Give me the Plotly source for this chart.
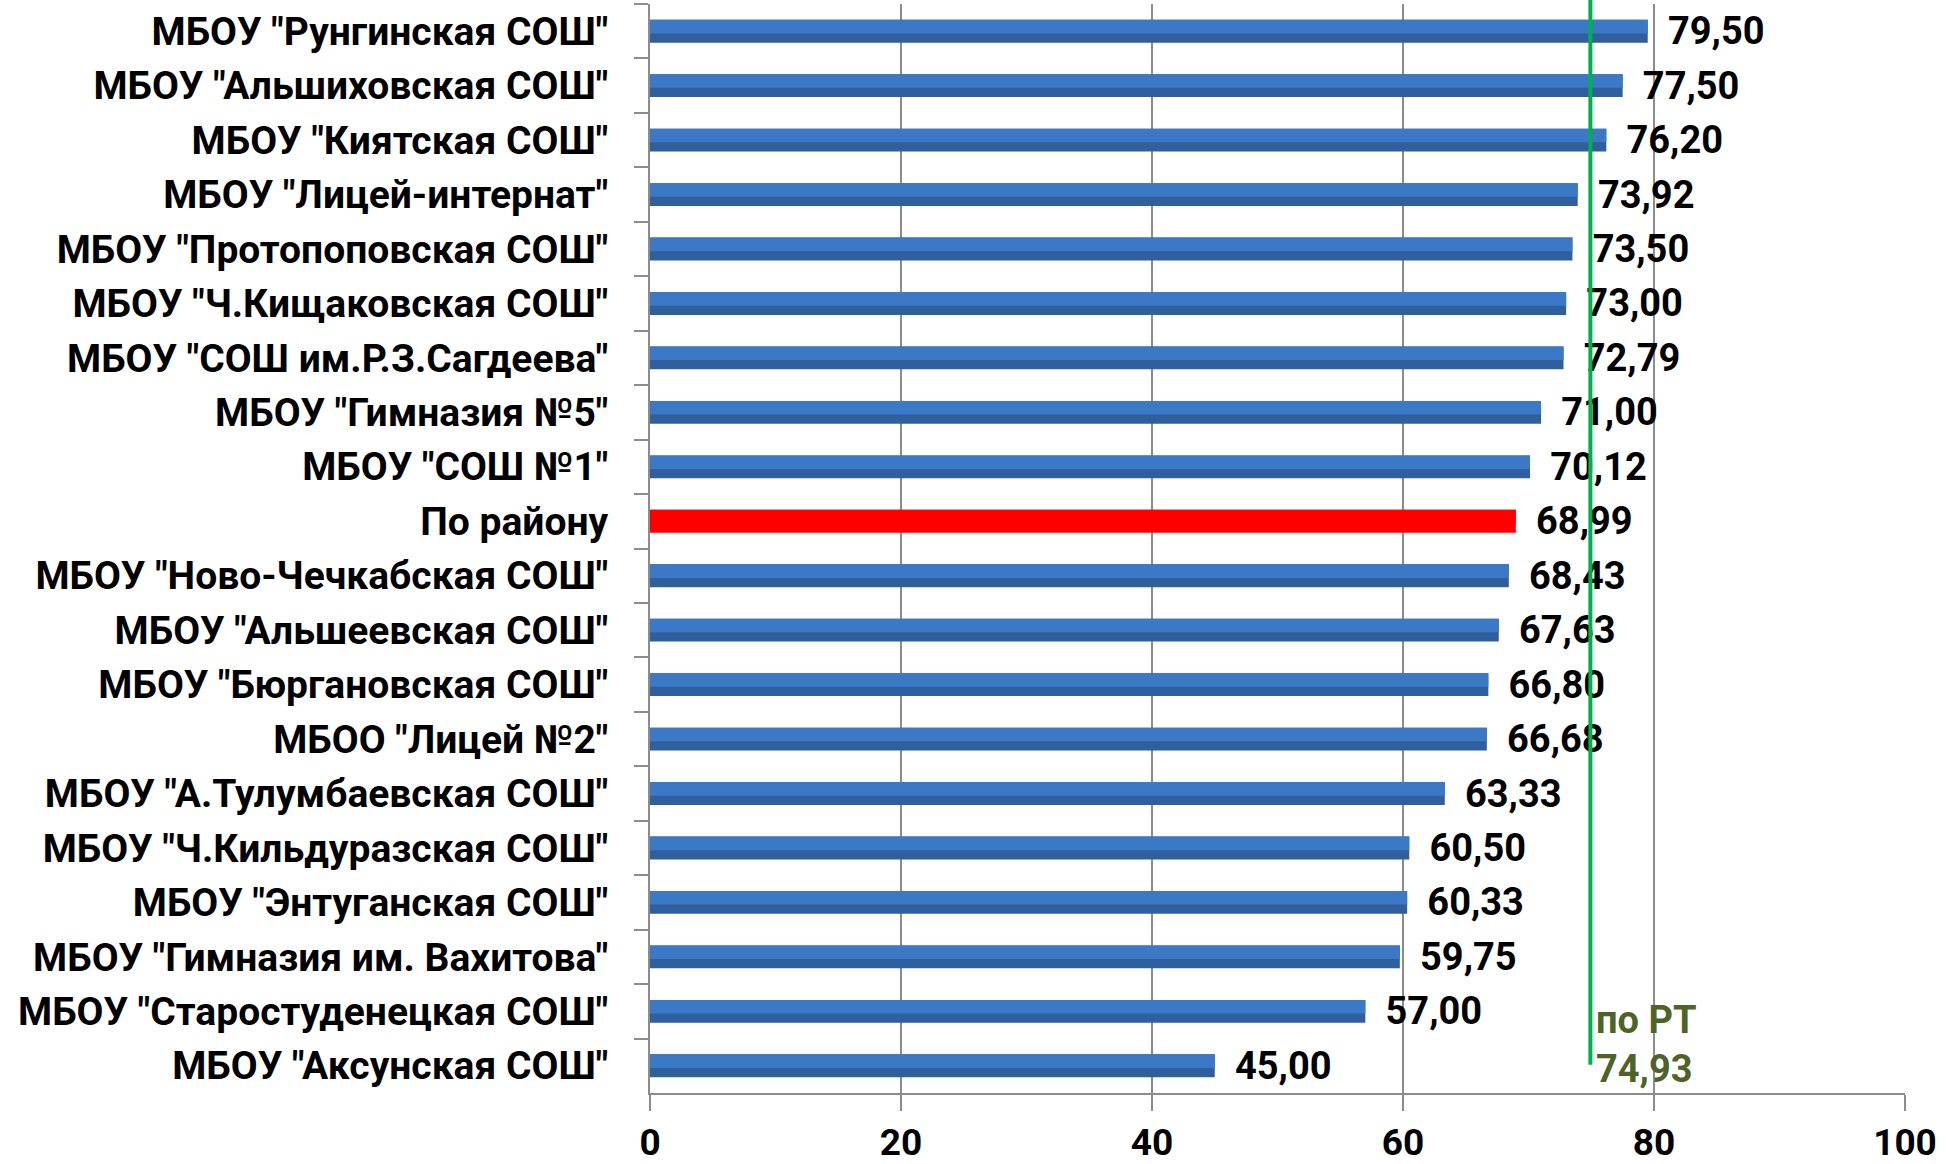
import plotly.graph_objects as go

# Schools, top to bottom as in the chart
schools = [
    'МБОУ "Рунгинская СОШ"',
    'МБОУ "Альшиховская СОШ"',
    'МБОУ "Киятская СОШ"',
    'МБОУ "Лицей-интернат"',
    'МБОУ "Протопоповская СОШ"',
    'МБОУ "Ч.Кищаковская СОШ"',
    'МБОУ "СОШ им.Р.З.Сагдеева"',
    'МБОУ "Гимназия №5"',
    'МБОУ "СОШ №1"',
    'По району',
    'МБОУ "Ново-Чечкабская СОШ"',
    'МБОУ "Альшеевская СОШ"',
    'МБОУ "Бюргановская СОШ"',
    'МБОО "Лицей №2"',
    'МБОУ "А.Тулумбаевская СОШ"',
    'МБОУ "Ч.Кильдуразская СОШ"',
    'МБОУ "Энтуганская СОШ"',
    'МБОУ "Гимназия им. Вахитова"',
    'МБОУ "Старостуденецкая СОШ"',
    'МБОУ "Аксунская СОШ"',
]
scores = [79.50, 77.50, 76.20, 73.92, 73.50, 73.00, 72.79, 71.00, 70.12, 68.99,
          68.43, 67.63, 66.80, 66.68, 63.33, 60.50, 60.33, 59.75, 57.00, 45.00]
district_name = "По району"
rt_value = 74.93
rt_label = "по РТ"
x_ticks = [0, 20, 40, 60, 80, 100]

FONT = "Roboto"
labels = ["\u00a0\u2009" + f"{v:.2f}".replace(".", ",") for v in scores]
dark = ["#FF0000" if s == district_name else "#2F5F9C" for s in schools]
light = ["#FF0000" if s == district_name else "#3B79C6" for s in schools]

fig = go.Figure()
# darker base of each bar, carrying the value labels
fig.add_trace(go.Bar(
    x=scores, y=schools, orientation="h", width=0.42,
    marker=dict(color=dark, line_width=0),
    text=labels, textposition="outside", constraintext="none", cliponaxis=False,
    textfont=dict(family=FONT, size=38, color="black", weight="bold"),
))
# lighter upper part to imitate the gradient
fig.add_trace(go.Bar(
    x=scores, y=schools, orientation="h", width=0.25, offset=-0.21,
    marker=dict(color=light, line_width=0),
))

fig.add_shape(type="line", xref="x", yref="paper", x0=rt_value, x1=rt_value,
              y0=0.026, y1=1.004, line=dict(color="#00B050", width=4))
fig.add_annotation(
    x=rt_value, xref="x", y=0.0, yref="paper", xanchor="left", yanchor="bottom",
    xshift=4, yshift=0, showarrow=False, align="left",
    text=f"{rt_label}<br>{rt_value:.2f}".replace(".", ","),
    font=dict(family=FONT, size=38, color="#4F6228", weight="bold"),
)

fig.update_layout(
    width=1946, height=1164, showlegend=False, barmode="overlay",
    plot_bgcolor="white", paper_bgcolor="white",
    margin=dict(l=650, r=41, t=4, b=71),
    font=dict(family=FONT, color="black"),
)
fig.update_xaxes(
    range=[0, 100], tickvals=x_ticks, showgrid=True, gridcolor="#8C8C8C", gridwidth=2,
    showline=True, linecolor="#8C8C8C", linewidth=2, ticks="outside", ticklen=16,
    tickcolor="#8C8C8C", tickwidth=2, zeroline=False, automargin=False,
    tickfont=dict(family=FONT, size=37, weight="bold"), ticklabelstandoff=0,
)
fig.update_yaxes(
    autorange="reversed", showline=True, linecolor="#8C8C8C", linewidth=2,
    ticks="outside", ticklen=14, tickcolor="#8C8C8C", tickwidth=2, tickson="boundaries",
    showgrid=False, automargin=False,
    tickfont=dict(family=FONT, size=39, weight="bold"), ticklabelstandoff=32,
)

fig.write_html("out.html", config={"displayModeBar": False},
               post_script="document.body.style.margin='0';")
